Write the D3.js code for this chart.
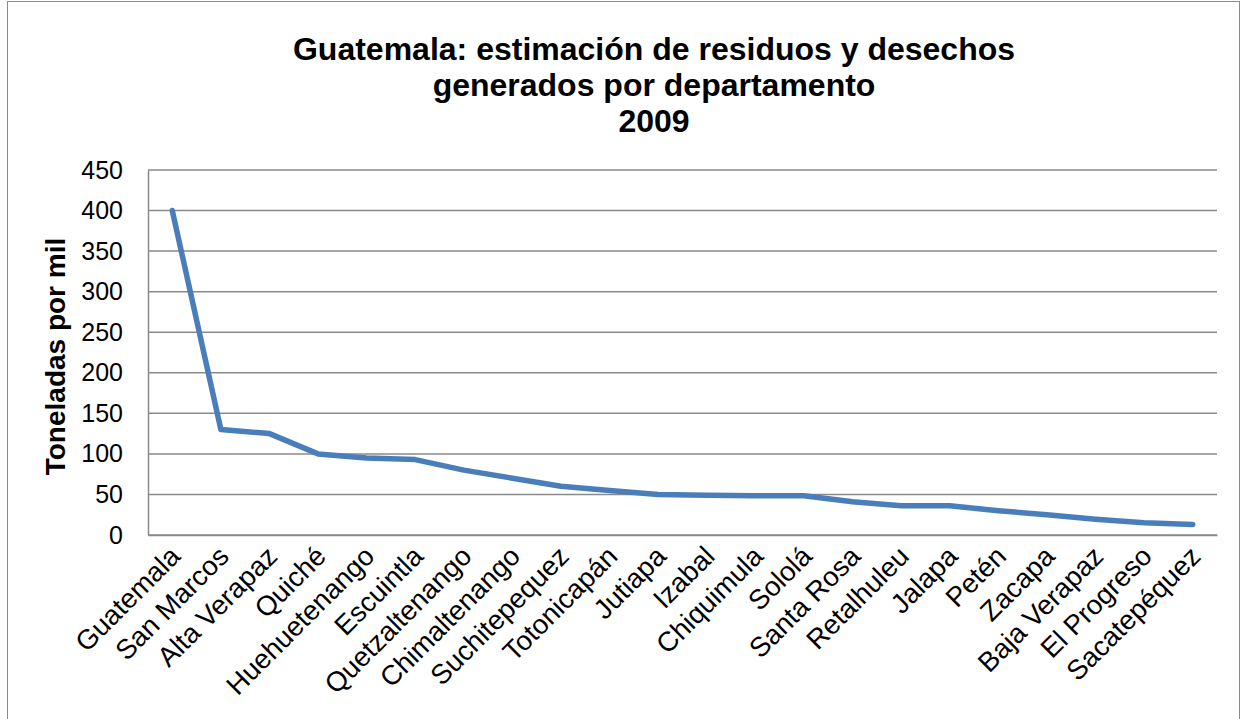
<!DOCTYPE html>
<html>
<head>
<meta charset="utf-8">
<script src="https://cdn.jsdelivr.net/npm/d3@7"></script>
<style>
  body { margin: 0; background: #fff; }
  text { font-family: "Liberation Sans", Arial, sans-serif; fill: #000; }
</style>
</head>
<body>
<svg id="chart"></svg>
<script>
// data
const departamentos = ["Guatemala", "San Marcos", "Alta Verapaz", "Quiché", "Huehuetenango",
  "Escuintla", "Quetzaltenango", "Chimaltenango", "Suchitepequez", "Totonicapán", "Jutiapa",
  "Izabal", "Chiquimula", "Sololá", "Santa Rosa", "Retalhuleu", "Jalapa", "Petén", "Zacapa",
  "Baja Verapaz", "El Progreso", "Sacatepéquez"];
const toneladas = [400, 130, 125, 100, 95, 93, 80, 70, 60, 55, 50, 49, 48.5, 48.5, 41, 36, 36,
  30, 25, 19.5, 15, 13];
const yTicks = [0, 50, 100, 150, 200, 250, 300, 350, 400, 450];
const titleLines = ["Guatemala: estimación de residuos y desechos", "generados por departamento", "2009"];
const yLabel = "Toneladas por mil";

const W = 1244, H = 719;
const margin = {top: 170, right: 27, bottom: 184, left: 148};
const width = W - margin.left - margin.right;
const height = H - margin.top - margin.bottom;

const svg = d3.select("#chart").attr("width", W).attr("height", H);

// outer frame
svg.append("rect")
  .attr("x", 7.5).attr("y", 1.5)
  .attr("width", 1232).attr("height", 730)
  .attr("fill", "none").attr("stroke", "#8c8c8c").attr("stroke-width", 1);

const chart = svg.append("g").attr("transform", `translate(${margin.left},${margin.top})`);

const xScale = d3.scalePoint().domain(departamentos).range([0, width]).padding(0.5);
const yScale = d3.scaleLinear().domain([0, 450]).range([height, 0]);

// gridlines
chart.append("g")
  .selectAll("line")
  .data(yTicks)
  .join("line")
  .attr("x1", 0).attr("x2", width)
  .attr("y1", d => yScale(d)).attr("y2", d => yScale(d))
  .attr("stroke", "#8a8a8a").attr("stroke-width", 1.5);

// y axis
const yAxisG = chart.append("g")
  .call(d3.axisLeft(yScale).tickValues(yTicks).tickSize(0).tickPadding(25));
yAxisG.select(".domain").attr("stroke", "#8a8a8a").attr("stroke-width", 1.5);
yAxisG.selectAll("text").style("font-size", "25px");

// x axis
const xAxisG = chart.append("g")
  .attr("transform", `translate(0,${height})`)
  .call(d3.axisBottom(xScale).tickSize(0).tickPadding(0));
xAxisG.select(".domain").attr("stroke", "#8a8a8a").attr("stroke-width", 1.5);
xAxisG.selectAll("text")
  .style("font-size", "27.5px")
  .attr("text-anchor", "end")
  .attr("dy", null)
  .attr("y", 0)
  .attr("transform", "translate(9,23) rotate(-45)");

// line
const line = d3.line()
  .x((d, i) => xScale(departamentos[i]))
  .y(d => yScale(d));

chart.append("path")
  .datum(toneladas)
  .attr("d", line)
  .attr("fill", "none")
  .attr("stroke", "#4a7ebb")
  .attr("stroke-width", 5.5)
  .attr("stroke-linejoin", "round")
  .attr("stroke-linecap", "round");

// title
svg.append("text")
  .attr("text-anchor", "middle")
  .style("font-size", "32px")
  .style("font-weight", "700")
  .selectAll("tspan")
  .data(titleLines)
  .join("tspan")
  .attr("x", 654)
  .attr("y", (d, i) => 60 + i * 36)
  .text(d => d);

// y axis label
svg.append("text")
  .attr("transform", `translate(65,${margin.top + height / 2 + 4}) rotate(-90)`)
  .attr("text-anchor", "middle")
  .style("font-size", "28px")
  .style("font-weight", "700")
  .text(yLabel);
</script>
</body>
</html>
